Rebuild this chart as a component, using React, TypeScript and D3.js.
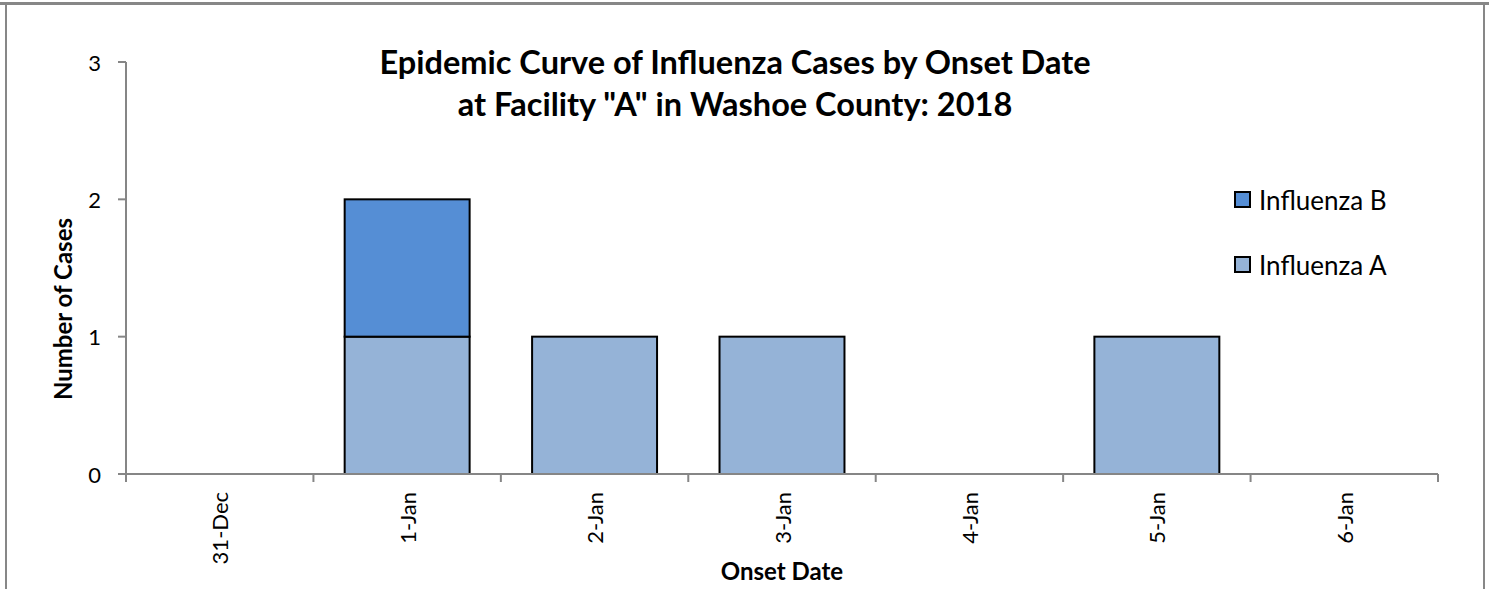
import { useMemo } from "react";
import * as d3 from "d3";

const WIDTH = 1489;
const HEIGHT = 589;

// chart data
const dates = ["31-Dec", "1-Jan", "2-Jan", "3-Jan", "4-Jan", "5-Jan", "6-Jan"];
const influenzaA = [0, 1, 1, 1, 0, 1, 0];
const influenzaB = [0, 1, 0, 0, 0, 0, 0];
const yTicks = [0, 1, 2, 3];

const seriesNames = ["Influenza A", "Influenza B"];
const seriesColors = ["#95B3D7", "#558ED5"];

const FONT = "Lato, 'Open Sans', sans-serif";
const AXIS_GREY = "#868686";

const App = () => {
  const plot = { left: 126, right: 1438, top: 62, bottom: 474 };

  const xScale = useMemo(
    () =>
      d3
        .scaleBand()
        .domain(dates)
        .range([plot.left, plot.right])
        .paddingInner(1 / 3)
        .paddingOuter(1 / 6),
    []
  );

  const yScale = useMemo(
    () => d3.scaleLinear().domain([0, 3]).range([plot.bottom, plot.top]),
    []
  );

  // stack A under B
  const stacked = useMemo(() => {
    const table = dates.map((d, i) => ({
      date: d,
      "Influenza A": influenzaA[i],
      "Influenza B": influenzaB[i],
    }));
    return d3.stack<any>().keys(seriesNames)(table);
  }, []);

  const step = xScale.step();
  const tickXs = dates.map((_, i) => plot.left + i * step).concat(plot.right);

  return (
    <svg
      width={WIDTH}
      height={HEIGHT}
      style={{ position: "absolute", left: 0, top: 0, background: "#fff" }}
      fontFamily={FONT}
    >
      {/* outer frame (cropped at bottom) */}
      <line x1={0} x2={WIDTH} y1={3.5} y2={3.5} stroke="#878787" strokeWidth={3} />
      <line x1={6} x2={6} y1={3} y2={HEIGHT} stroke="#878787" strokeWidth={2} />
      <line x1={1484} x2={1484} y1={3} y2={HEIGHT} stroke="#878787" strokeWidth={2} />

      {/* bars */}
      {stacked.map((layer, si) =>
        layer.map((seg, i) => {
          if (seg[1] - seg[0] <= 0) return null;
          const x = xScale(dates[i]) ?? 0;
          return (
            <rect
              key={`${si}-${i}`}
              x={x}
              y={yScale(seg[1])}
              width={xScale.bandwidth()}
              height={yScale(seg[0]) - yScale(seg[1])}
              fill={seriesColors[si]}
              stroke="#000"
              strokeWidth={2}
            />
          );
        })
      )}

      {/* y axis */}
      <line x1={plot.left} x2={plot.left} y1={plot.top} y2={plot.bottom} stroke={AXIS_GREY} strokeWidth={2} />
      {yTicks.map((t) => (
        <g key={t}>
          <line x1={plot.left - 8} x2={plot.left} y1={yScale(t)} y2={yScale(t)} stroke={AXIS_GREY} strokeWidth={2} />
          <text x={plot.left - 25} y={yScale(t)} textAnchor="end" dominantBaseline="central" fontSize={22}>
            {t}
          </text>
        </g>
      ))}

      {/* x axis */}
      <line x1={plot.left} x2={plot.right} y1={plot.bottom} y2={plot.bottom} stroke={AXIS_GREY} strokeWidth={2} />
      {tickXs.map((x, i) => (
        <line key={i} x1={x} x2={x} y1={plot.bottom} y2={plot.bottom + 8} stroke={AXIS_GREY} strokeWidth={2} />
      ))}
      {dates.map((d) => {
        const cx = (xScale(d) ?? 0) + xScale.bandwidth() / 2;
        return (
          <text
            key={d}
            transform={`translate(${cx},${plot.bottom + 18}) rotate(-90)`}
            textAnchor="end"
            dominantBaseline="central"
            fontSize={22}
          >
            {d}
          </text>
        );
      })}

      {/* titles */}
      <text x={735} y={74} textAnchor="middle" fontSize={32.5} fontWeight="bold">
        Epidemic Curve of Influenza Cases by Onset Date
      </text>
      <text x={735} y={116} textAnchor="middle" fontSize={32.5} fontWeight="bold">
        at Facility "A" in Washoe County: 2018
      </text>
      <text x={782} y={580} textAnchor="middle" fontSize={24} fontWeight="bold">
        Onset Date
      </text>
      <text
        transform={`translate(62,309) rotate(-90)`}
        textAnchor="middle"
        dominantBaseline="central"
        fontSize={24}
        fontWeight="bold"
      >
        Number of Cases
      </text>

      {/* legend: B on top */}
      {[1, 0].map((si, row) => (
        <g key={si} transform={`translate(1235,${192 + row * 65})`}>
          <rect x={0} y={0} width={15} height={15} fill={seriesColors[si]} stroke="#000" strokeWidth={2} />
          <text x={24} y={8} dominantBaseline="central" fontSize={26}>
            {seriesNames[si]}
          </text>
        </g>
      ))}
    </svg>
  );
};

export default App;
